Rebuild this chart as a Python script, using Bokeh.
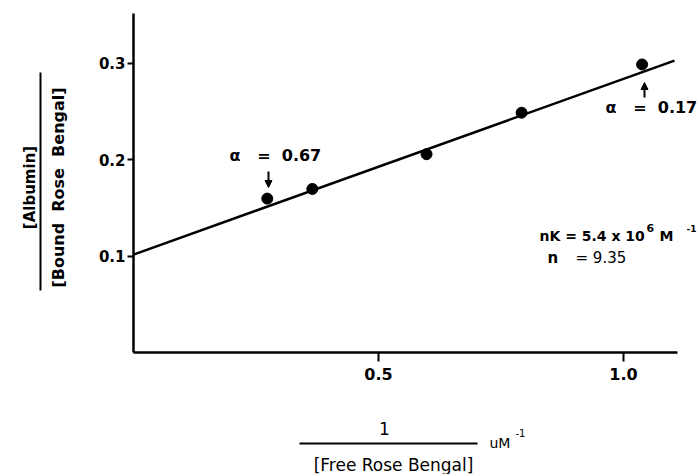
import math
from bokeh.plotting import figure
from bokeh.models import Label, Arrow, NormalHead, Range1d, FixedTicker, LinearAxis
from bokeh.embed import file_html
from bokeh.resources import INLINE

# ---- data ----
inv_free = [0.273, 0.365, 0.598, 0.792, 1.038]      # 1/[Free Rose Bengal] (uM^-1)
ratio = [0.160, 0.170, 0.206, 0.249, 0.299]         # [Albumin]/[Bound Rose Bengal]
fit_x = [0.0, 1.104]
fit_y = [0.102, 0.303]
x_ticks = [0.5, 1.0]
x_tick_labels = {0.5: "0.5", 1.0: "1.0"}
y_ticks = [0.1, 0.2, 0.3]
y_tick_labels = {0.1: "0.1", 0.2: "0.2", 0.3: "0.3"}

FONT = "DejaVu Sans"
NB = "\u00a0"

p = figure(width=700, height=474, output_backend="svg", toolbar_location=None,
           x_range=Range1d(-0.27143, 1.15714), y_range=Range1d(-0.12591, 0.36528),
           x_axis_location=None, y_axis_location=None,
           min_border=0)
p.outline_line_color = None
p.grid.visible = False
p.background_fill_color = "white"
p.border_fill_color = "white"

xax = LinearAxis(fixed_location=0, bounds=(0, 1.11), ticker=FixedTicker(ticks=x_ticks),
                 major_label_overrides=x_tick_labels)
yax = LinearAxis(fixed_location=0, bounds=(0, 0.352), ticker=FixedTicker(ticks=y_ticks),
                 major_label_overrides=y_tick_labels)
for ax in (xax, yax):
    ax.axis_line_width = 2.5
    ax.axis_line_color = "black"
    ax.major_tick_line_width = 2
    ax.major_tick_line_color = "black"
    ax.major_tick_in = 0
    ax.minor_tick_line_color = None
    ax.major_label_text_font = FONT
    ax.major_label_text_font_style = "bold"
    ax.major_label_text_color = "black"
xax.major_tick_out = 9
xax.major_label_standoff = 6
xax.major_label_text_font_size = "16px"
yax.major_tick_out = 6
yax.major_label_standoff = 2
yax.major_label_text_font_size = "15px"
p.add_layout(xax, "below")
p.add_layout(yax, "left")

p.line(fit_x, fit_y, line_color="black", line_width=2.5)
p.scatter(inv_free, ratio, size=11, fill_color="black", line_color="black")

def X(px):
    return (px - 133) / 490.0

def Y(py):
    return (352.5 - py) / 965.0

def lab(px, py, text, size="15px", style="bold", align="left", angle=0.0):
    p.add_layout(Label(x=X(px), y=Y(py), text=text, text_font=FONT, text_font_size=size,
                       text_font_style=style, text_align=align, text_baseline="middle",
                       text_color="black", angle=angle))

def bar(px0, py0, px1, py1, w=2):
    p.add_layout(Arrow(x_start=X(px0), y_start=Y(py0), x_end=X(px1), y_end=Y(py1),
                       line_width=w, line_color="black", start=None, end=None))

def arrow(px, py0, py1):
    p.add_layout(Arrow(x_start=X(px), y_start=Y(py0), x_end=X(px), y_end=Y(py1),
                       line_width=2, line_color="black",
                       end=NormalHead(size=7, fill_color="black", line_color="black")))

# annotations
lab(229, 155, "α" + NB * 3 + "=" + NB * 2 + "0.67", size="16px")
arrow(268, 171, 187)
lab(605, 107, "α" + NB * 3 + "=" + NB * 2 + "0.17", size="16px")
arrow(644, 97, 82)
lab(539, 236, "nK = 5.4 x 10", size="14px")
lab(646, 228, "6", size="11px")
lab(659, 236, "M", size="14px")
lab(686, 228, "-1", size="9px")
lab(547, 258, "n", size="15px")
lab(575, 258, "=" + NB + "9.35", size="15px", style="normal")

# y axis label as a fraction
lab(29, 187, "[Albumin]", size="15px", align="center", angle=math.pi / 2)
lab(58, 187, "[Bound" + NB * 2 + "Rose" + NB * 2 + "Bengal]", size="16px", align="center",
    angle=math.pi / 2)
bar(40, 290, 40, 72)

# x axis label as a fraction
lab(384, 428, "1", size="17px", align="center", style="normal")
bar(299, 443, 477, 443)
lab(489, 443, "uM", size="14px", style="normal")
lab(515, 433, "-1", size="10px", style="normal")
lab(393, 465, "[Free Rose Bengal]", size="17px", align="center", style="normal")

open("out.html", "w").write(file_html(p, INLINE))
